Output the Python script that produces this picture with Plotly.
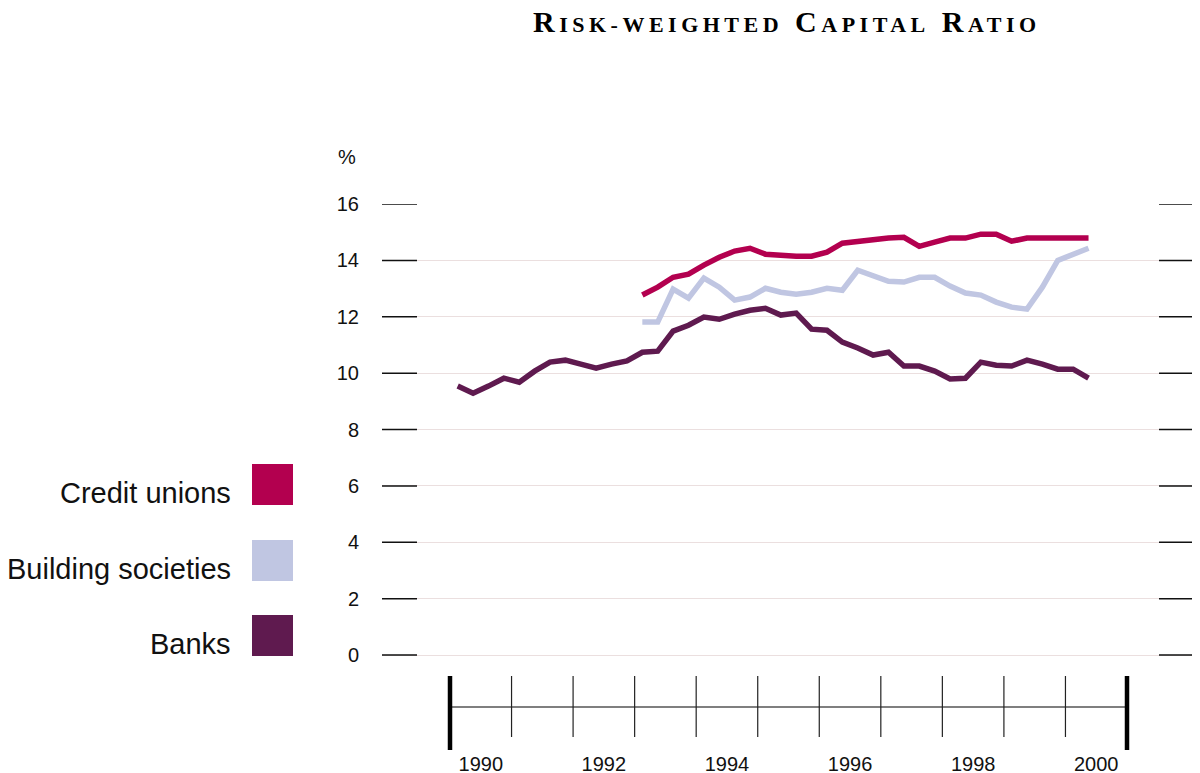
import plotly.graph_objects as go

# ---------------- data ----------------
series_names = ["Credit unions", "Building societies", "Banks"]
series_colors = ["#b3004f", "#c0c6e2", "#5f1a4f"]

# quarterly observations, 1990 Q1 .. 2000 Q2 (banks), 1993 Q1 .. 2000 Q2 (others)
banks_start_year = 1990
banks = [9.54, 9.29, 9.54, 9.82, 9.68, 10.07, 10.39, 10.46, 10.32, 10.18, 10.32, 10.43,
         10.74, 10.78, 11.49, 11.70, 11.99, 11.91, 12.09, 12.23, 12.30, 12.06, 12.13, 11.56,
         11.52, 11.10, 10.89, 10.64, 10.74, 10.25, 10.25, 10.07, 9.79, 9.82, 10.39, 10.28,
         10.25, 10.46, 10.32, 10.14, 10.14, 9.82]
credit_start_year = 1993
credit_unions = [12.77, 13.05, 13.40, 13.51, 13.83, 14.11, 14.33, 14.43, 14.22, 14.18,
                 14.15, 14.15, 14.29, 14.61, 14.68, 14.75, 14.79, 14.82, 14.50, 14.65,
                 14.79, 14.79, 14.93, 14.93, 14.68, 14.79, 14.79, 14.82, 14.79, 14.79]
building_start_year = 1993
building_societies = [11.81, 11.81, 12.98, 12.66, 13.37, 13.05, 12.59, 12.70, 13.01, 12.87,
                      12.80, 12.87, 13.01, 12.94, 13.65, 13.48, 13.26, 13.23, 13.40, 13.40,
                      13.09, 12.84, 12.77, 12.52, 12.34, 12.27, 13.05, 14.00, 14.22, 14.43]

y_ticks = [0, 2, 4, 6, 8, 10, 12, 14, 16]
year_first, year_last = 1990, 2000
x_label_years = [1990, 1992, 1994, 1996, 1998, 2000]
title_text = "Risk-weighted Capital Ratio"


def quarter_x(start_year, n):
    return [start_year + (k + 0.5) / 4 for k in range(n)]


fig = go.Figure()
for name, color, start, vals in [
    ("Banks", series_colors[2], banks_start_year, banks),
    ("Building societies", series_colors[1], building_start_year, building_societies),
    ("Credit unions", series_colors[0], credit_start_year, credit_unions),
]:
    fig.add_trace(go.Scatter(x=quarter_x(start, len(vals)), y=vals, mode="lines", name=name,
                             line=dict(color=color, width=5.5), showlegend=False,
                             hoverinfo="skip"))

# ---------------- layout geometry ----------------
# the page body adds an 8px margin, so the figure is 8px smaller and offset
OFF = 8
W, H = 1200 - OFF, 773 - OFF
ML, MR, MT, MB = 382 - OFF, 5, 204 - OFF, 23
plot_w = W - ML - MR
plot_h = H - MT - MB
px_per_year = 61.545
x0 = year_first - 68 / px_per_year
x1 = year_last + 1 + 68 / px_per_year
px_per_unit = 451 / 16
y_bottom = -(750 - 655) / px_per_unit


def py(p):  # screen row -> paper y
    return (750 - p) / plot_h


def pxp(p):  # screen col -> paper x
    return (p - 382) / plot_w


shapes = []
# dark gridline ends
for v in y_ticks:
    for a, b in [(pxp(382), pxp(417)), (pxp(1159), pxp(1195))]:
        shapes.append(dict(type="line", xref="paper", yref="y", x0=a, x1=b, y0=v, y1=v,
                           line=dict(color="#111111", width=1.5), layer="above"))
# timeline
shapes.append(dict(type="line", xref="x", yref="paper", x0=year_first, x1=year_last + 1,
                   y0=py(707), y1=py(707), line=dict(color="#555555", width=1.5)))
for yr in range(year_first + 1, year_last + 1):
    shapes.append(dict(type="line", xref="x", yref="paper", x0=yr, x1=yr,
                       y0=py(676), y1=py(737), line=dict(color="#222222", width=1.2)))
for yr in [year_first, year_last + 1]:
    shapes.append(dict(type="line", xref="x", yref="paper", x0=yr, x1=yr,
                       y0=py(676), y1=py(750), line=dict(color="#000000", width=4.5)))

annotations = []
# legend
legend_rows = [(464, 505), (540, 581), (615, 656)]
for name, color, (t, b) in zip(series_names, series_colors, legend_rows):
    shapes.append(dict(type="rect", xref="paper", yref="paper", x0=pxp(252), x1=pxp(293),
                       y0=py(b), y1=py(t), fillcolor=color, line=dict(width=0)))
    annotations.append(dict(text=name, xref="paper", yref="paper", x=pxp(233), y=py(b - 12),
                            xanchor="right", yanchor="middle", showarrow=False,
                            font=dict(family="Liberation Sans, Arial, sans-serif",
                                      size=29, color="#111111")))
annotations.append(dict(text="%", xref="paper", yref="paper", x=pxp(358), y=py(157),
                        xanchor="right", yanchor="middle", showarrow=False,
                        font=dict(family="Liberation Sans, sans-serif", size=20,
                                  color="#111111")))


def small_caps(text, big=30, small=22, spacing=4.5):
    out = []
    for word in text.split(" "):
        out.append(word[0].upper() + "<span style='font-size:%dpx;letter-spacing:%.1fpx'>%s</span>"
                   % (small, spacing, word[1:].upper()))
    return "<span style='font-size:%dpx;letter-spacing:%.1fpx'>%s</span>" % (big, spacing, "&nbsp;".join(out))


annotations.append(dict(text="<b>" + small_caps(title_text) + "</b>",
                        xref="paper", yref="paper", x=pxp(787), y=py(21),
                        xanchor="center", yanchor="middle", showarrow=False,
                        font=dict(family="Liberation Serif, serif", color="#000000")))

tick_font = dict(family="Liberation Sans, sans-serif", size=20, color="#111111")
fig.update_layout(
    width=W, height=H, margin=dict(l=ML, r=MR, t=MT, b=MB, autoexpand=False),
    paper_bgcolor="white", plot_bgcolor="white",
    shapes=shapes, annotations=annotations,
    xaxis=dict(range=[x0, x1], tickvals=[y + 0.5 for y in x_label_years],
               ticktext=[str(y) for y in x_label_years], showgrid=False, zeroline=False,
               showline=False, ticks="", fixedrange=True, automargin=False,
               ticklabelstandoff=0, tickfont=tick_font),
    yaxis=dict(range=[y_bottom, 16], tickvals=y_ticks, ticktext=[str(v) for v in y_ticks],
               showgrid=True, gridcolor="#ebdfdf", gridwidth=1, zeroline=False, showline=False,
               ticks="", ticklabelstandoff=22, fixedrange=True, automargin=False,
               tickfont=tick_font),
)

fig.write_html("out.html")
